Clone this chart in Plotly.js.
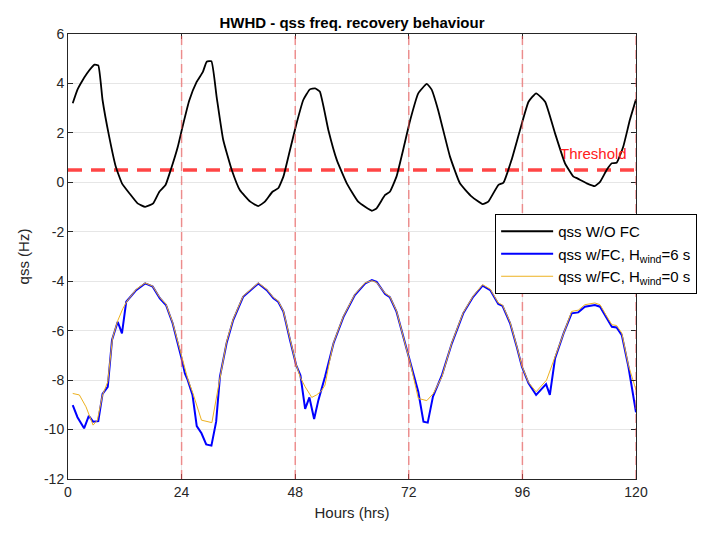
<!DOCTYPE html>
<html>
<head>
<meta charset="utf-8">
<script src="https://cdn.plot.ly/plotly-3.0.1.min.js"></script>
<style>html,body{margin:0;padding:0;background:#fff;}#chart{width:701px;height:537px;}</style>
</head>
<body>
<div id="chart"></div>
<script>
// Black: qss without FC
const hoursNoFC = [1,2,3,4,5,5.6,6.4,7.3,8.7,10.1,11.4,13,14.7,16.3,18,19.3,20.6,21.7,23.2,24.2,25.6,27.2,28.5,29.3,30.3,31.4,32.8,34.6,36.3,38.5,40.2,41.6,43.2,44.4,45.5,46.9,48.2,49.7,51.1,52.2,53.2,55,56.8,58.9,61.3,64.2,65.2,67,68,69.4,70.8,72.3,74,75.8,76.8,78.2,79.7,80.7,82.8,85.3,87.6,88.8,90.9,92,93.7,95.5,97.3,98.9,100.8,102.9,105,106.8,107.6,109.6,111.3,112.4,113.8,114.9,115.9,117.3,118.7,120];
const qssNoFC = [3.2,3.75,4.1,4.4,4.65,4.76,4.73,3.33,1.85,0.63,-0.04,-0.45,-0.85,-0.99,-0.85,-0.38,-0.11,0.5,1.44,2.25,3.3,4.07,4.47,4.88,4.9,3.46,1.71,0.5,-0.31,-0.78,-0.96,-0.78,-0.38,-0.24,0.23,1.31,2.32,3.33,3.76,3.8,3.67,2.12,0.9,-0.04,-0.78,-1.15,-1.05,-0.51,-0.38,0.23,1.31,2.52,3.6,3.98,3.76,2.92,1.78,1.04,-0.04,-0.58,-0.88,-0.78,-0.11,-0.01,0.9,2.12,3.26,3.6,3.26,1.98,0.77,0.23,0.16,-0.04,-0.15,0.02,0.5,0.77,0.79,1.44,2.52,3.36];

// Blue: qss with FC, Hwind = 6 s
const hoursFC6 = [1,2,3.4,4.4,5.3,6.4,7.3,8.4,9.3,10.5,11.4,12.3,14.4,16.3,17.9,19.4,20.7,22.1,23.9,24.7,25.3,26.3,27.2,28.2,29.2,30.3,31.3,32.1,33.5,34.9,37,40.2,42,43.4,44.4,45.5,46.9,48.2,49.1,50.1,51,52,52.9,54.3,56.1,58.2,60.6,62.8,64.2,65.2,67,68,69.4,70.8,72.3,74,75.1,76,77.1,79,81.1,83.5,85.6,87.6,89.2,90.9,91.8,93.4,94.8,95.9,97.3,98.9,101,101.8,102.9,104.7,106.4,107.8,109.2,111.3,112.4,113.8,114.9,115.9,117,118.4,120];
const qssFC6 = [-9.01,-9.5,-9.95,-9.45,-9.68,-9.66,-8.56,-8.27,-6.38,-5.64,-6.11,-4.83,-4.36,-4.09,-4.22,-4.69,-4.96,-5.7,-7.05,-7.73,-8.0,-8.6,-9.86,-10.15,-10.6,-10.65,-9.68,-7.86,-6.51,-5.57,-4.63,-4.09,-4.36,-4.69,-4.83,-5.23,-6.38,-7.39,-7.8,-9.16,-8.7,-9.57,-8.81,-7.86,-6.51,-5.44,-4.56,-4.09,-3.95,-4.02,-4.52,-4.65,-5.23,-6.25,-7.32,-8.47,-9.68,-9.72,-8.67,-7.8,-6.51,-5.3,-4.63,-4.18,-4.36,-4.92,-5.0,-5.7,-6.65,-7.46,-8.13,-8.6,-8.16,-8.6,-7.12,-6.11,-5.3,-5.26,-5.03,-4.96,-5.03,-5.5,-5.84,-5.87,-6.18,-7.46,-9.3];

// Orange: qss with FC, Hwind = 0 s
const hoursFC0 = [1,2.4,3.8,5.3,6.2,7.3,8.4,9.4,10.5,11.6,12.5,14.4,16.3,17.9,19.4,20.7,22.1,23.9,25.3,26.4,28.2,30.4,32.5,33.5,34.9,37,40.2,42,43.4,44.4,45.5,46.9,48.2,49.1,50.1,51.5,52.5,53.5,54.3,55.3,56.1,58.2,60.6,62.8,64.2,65.2,67,68,69.4,70.8,72.3,74,75.8,77.2,79,81.1,83.5,85.6,87.6,89.2,90.9,91.8,93.4,94.8,95.9,97.3,98.9,101.1,102.9,104.7,106.4,107.8,109.2,111.3,112.4,113.8,114.9,115.9,117,118.4,120];
const qssFC0 = [-8.54,-8.6,-9.08,-9.82,-9.62,-8.6,-8.07,-6.3,-5.6,-5.1,-4.8,-4.33,-4.07,-4.2,-4.66,-4.93,-5.67,-7.02,-7.95,-8.54,-9.62,-9.72,-7.6,-6.45,-5.53,-4.6,-4.07,-4.33,-4.66,-4.8,-5.2,-6.35,-7.37,-7.9,-8.27,-8.7,-8.6,-8.45,-8.2,-7.2,-6.48,-5.41,-4.53,-4.06,-3.98,-4.05,-4.49,-4.62,-5.2,-6.22,-7.3,-8.74,-8.83,-8.54,-7.86,-6.48,-5.27,-4.6,-4.14,-4.32,-4.88,-4.96,-5.66,-6.62,-7.43,-8.1,-8.47,-8.0,-7.05,-6.03,-5.22,-5.17,-4.95,-4.88,-4.95,-5.42,-5.76,-5.79,-6.1,-7.4,-8.4];

const threshold = 0.5;
const dayLines = [24, 48, 72, 96, 120];
const xTicks = [0, 24, 48, 72, 96, 120];
const yTicks = [-12, -10, -8, -6, -4, -2, 0, 2, 4, 6];

const FONT = 'Liberation Sans, Arial, Helvetica, sans-serif';

const traces = [
  {x: [0, 120], y: [threshold, threshold], mode: 'lines', showlegend: false, hoverinfo: 'skip',
   line: {color: '#FF4545', width: 3.5, dash: '14px,9px'}},
  {x: hoursNoFC, y: qssNoFC, mode: 'lines', name: 'qss W/O FC', legendgroup: 'a',
   line: {color: '#000000', width: 1.8, shape: 'spline', smoothing: 0.4}},
  {x: hoursFC6, y: qssFC6, mode: 'lines', name: 'qss w/FC, H<sub>wind</sub>=6 s', legendgroup: 'b',
   line: {color: '#0000FF', width: 2}},
  {x: hoursFC0, y: qssFC0, mode: 'lines', name: 'qss w/FC, H<sub>wind</sub>=0 s', legendgroup: 'c',
   line: {color: '#EDB120', width: 1}}
];

const shapes = dayLines.map(d => ({
  type: 'line', xref: 'x', yref: 'paper', x0: d, x1: d, y0: 0, y1: 1,
  line: {color: 'rgba(238,80,80,0.6)', width: 1.5, dash: '9px,5px'}, layer: 'above'
}));

const layout = {
  width: 701, height: 537,
  margin: {l: 68, r: 65, t: 34, b: 58, pad: 0, autoexpand: false},
  paper_bgcolor: '#ffffff', plot_bgcolor: '#ffffff',
  font: {family: FONT, size: 14, color: '#262626'},
  title: {text: '<b>HWHD - qss freq. recovery behaviour</b>', x: 0.5, xref: 'paper', xanchor: 'center',
          y: 1, yref: 'paper', yanchor: 'bottom', pad: {b: 6},
          font: {family: FONT, size: 15, color: '#000000'}},
  xaxis: {range: [0, 120], tickvals: xTicks, ticktext: xTicks.map(String), ticks: 'inside', ticklen: 5,
          tickcolor: '#262626', showline: true, linecolor: '#262626', linewidth: 1, mirror: 'ticks',
          showgrid: true, gridcolor: '#e6e6e6', zeroline: false, automargin: false,
          title: {text: 'Hours (hrs)', font: {family: FONT, size: 15, color: '#262626'}, standoff: 8}},
  yaxis: {range: [-12, 6], tickvals: yTicks, ticktext: yTicks.map(String), ticks: 'inside', ticklen: 5,
          tickcolor: '#262626', showline: true, linecolor: '#262626', linewidth: 1, mirror: 'ticks',
          showgrid: true, gridcolor: '#e6e6e6', zeroline: false, automargin: false,
          title: {text: 'qss (Hz)', font: {family: FONT, size: 15, color: '#262626'}, standoff: 10}},
  legend: {x: 0.752, y: 0.5955, xanchor: 'left', yanchor: 'top', bgcolor: '#ffffff',
           bordercolor: '#000000', borderwidth: 1, font: {family: FONT, size: 15, color: '#000000'},
           tracegroupgap: 3, itemwidth: 52, traceorder: 'normal'},
  shapes: shapes,
  annotations: [{x: 118.5, y: 1.15, xref: 'x', yref: 'y', text: 'Threshold', showarrow: false,
                 xanchor: 'right', yanchor: 'middle', font: {family: FONT, size: 15, color: '#FF2020'}}],
  showlegend: true
};

Plotly.newPlot('chart', traces, layout, {displayModeBar: false, staticPlot: true});
</script>
</body>
</html>
